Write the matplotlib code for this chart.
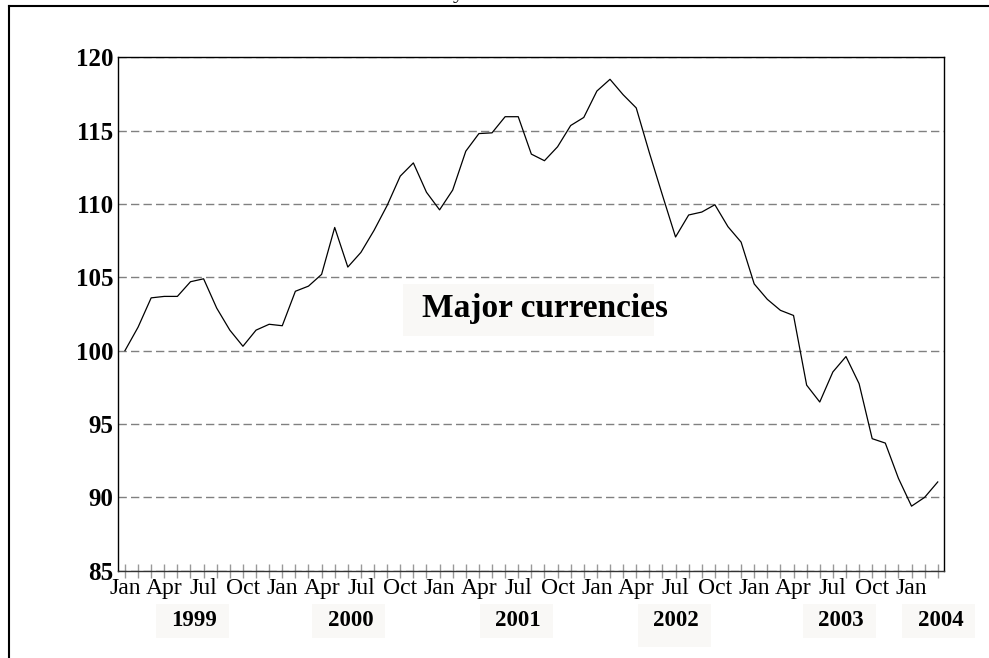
import numpy as np
import matplotlib
matplotlib.use('Agg')
import matplotlib.pyplot as plt
from matplotlib.lines import Line2D
from matplotlib.patches import Rectangle
from matplotlib.transforms import IdentityTransform, blended_transform_factory

W, H = 989, 658

# monthly index, Jan 1999 = 100
VALUES = [100.0, 101.6, 103.6, 103.7, 103.7, 104.7, 104.9, 102.9, 101.4, 100.3, 101.4, 101.8,
          101.7, 104.05, 104.4, 105.2, 108.4, 105.7, 106.7, 108.2, 109.9, 111.9, 112.8, 110.8,
          109.6, 110.95, 113.6, 114.8, 114.85, 115.95, 115.95, 113.4, 112.95, 113.9, 115.35, 115.9,
          117.7, 118.5, 117.45, 116.55, 113.5, 110.6, 107.75, 109.25, 109.45, 109.95, 108.45, 107.4,
          104.55, 103.5, 102.75, 102.4, 97.65, 96.5, 98.55, 99.6, 97.75, 94.0, 93.7, 91.3,
          89.4, 90.0, 91.05]
MONTHS = ['Jan', '', '', 'Apr', '', '', 'Jul', '', '', 'Oct', '', '']
YEARS = ['1999', '2000', '2001', '2002', '2003', '2004']
YEAR_X = [5.3, 17.2, 30.0, 42.0, 54.6, 62.2]
YTICKS = [85, 90, 95, 100, 105, 110, 115, 120]
LABEL = 'Major currencies'

plt.rcParams['font.family'] = ['Liberation Serif', 'DejaVu Serif']

fig = plt.figure(figsize=(W / 100, H / 100), dpi=100)
ax = fig.add_axes([118 / W, 1 - 570.7 / H, (944.3 - 118) / W, (570.7 - 57.3) / H])

x = np.arange(len(VALUES))
ax.plot(x, VALUES, color='black', lw=0.9, zorder=3)
ax.set_xlim(-0.53, 62.5)
ax.set_ylim(85, 120)

ax.set_yticks(YTICKS)
ax.set_yticklabels([str(v) for v in YTICKS], fontweight='bold')
ax.tick_params(axis='y', length=0, pad=3.4, labelsize=18)
ax.yaxis.grid(True, color='#808080', lw=1, linestyle=(0, (6, 3)))

ax.set_xticks(x)
ax.set_xticklabels([MONTHS[i % 12] for i in x])
ax.tick_params(axis='x', direction='inout', length=10, width=1, color='#999999',
               pad=0.5, labelsize=17)

for s in ['left', 'top', 'right']:
    ax.spines[s].set_linewidth(1.0)
    ax.spines[s].set_color('black')
ax.spines['bottom'].set_color('#333333')
ax.spines['bottom'].set_linewidth(1.0)

# frame lines
fig.add_artist(Line2D([9 / W, 1], [1 - 6 / H, 1 - 6 / H], color='black', lw=1.5))
fig.add_artist(Line2D([9 / W, 9 / W], [0, 1 - 6 / H], color='black', lw=1.5))

# cut-off title fragment at top
fig.text(458 / W, 1 + 2 / H, 'y', fontsize=16, ha='center', va='baseline')

# year labels with light boxes
fig.canvas.draw()
btrans = blended_transform_factory(ax.transData, fig.transFigure)
for yr, xp in zip(YEARS, YEAR_X):
    cx = ax.transData.transform((xp, 100))[0]
    hgt = 43 if yr == '2002' else 34
    fig.add_artist(Rectangle((cx - 38, H - 604 - hgt), 73, hgt, transform=IdentityTransform(),
                             facecolor='#f9f8f6', edgecolor='none', zorder=1))
    fig.text(xp, 1 - 620 / H, yr, transform=btrans, fontsize=16.5, fontweight='bold',
             ha='center', va='center', zorder=2)

# series label
fig.add_artist(Rectangle((403, H - 336), 251, 52, transform=IdentityTransform(),
                         facecolor='#f9f8f6', edgecolor='none', zorder=1))
fig.text(544.5 / W, 1 - 317 / H, LABEL, fontsize=24, fontweight='bold',
         ha='center', va='baseline', zorder=2)

fig.savefig('out.png', dpi=100)
